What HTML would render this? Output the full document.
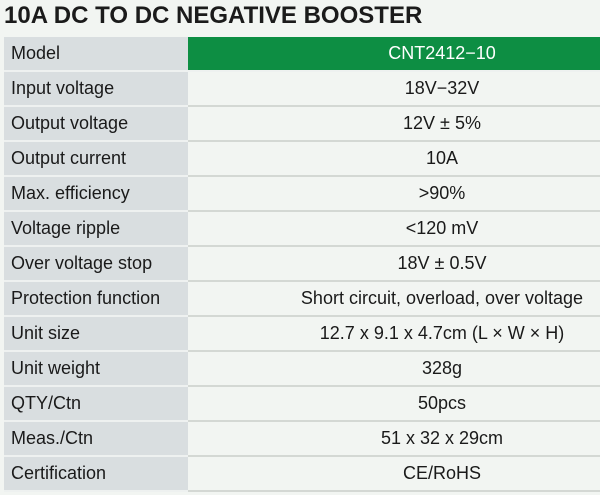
<!DOCTYPE html><html><head><style>
body{margin:0;width:600px;height:495px;background:#f2f5f2;font-family:"Liberation Sans",sans-serif;overflow:hidden;position:relative}
h1{position:absolute;left:4px;top:2px;margin:0;font-size:24px;font-weight:bold;color:#1b1b1b;letter-spacing:0px}
.t{position:absolute;left:4px;top:37px;width:596px}
.r{height:33px;display:flex;border-bottom:2px solid #d4d8d4}
.l{width:177px;background:#d9dee0;font-size:18px;color:#1a1a1a;line-height:33px;padding-left:7px;border-bottom:2px solid #eef1f0;margin-bottom:-2px;height:33px}
.v{flex:1;text-align:center;font-size:18px;color:#1a1a1a;line-height:33px;padding-left:96px}
.g{background:#0d8e43;color:#fff}
</style></head><body>
<h1>10A DC TO DC NEGATIVE BOOSTER</h1>
<div class="t">
<div class="r" style="border-bottom-color:#eef1f0"><div class="l">Model</div><div class="v g">CNT2412−10</div></div>
<div class="r"><div class="l">Input voltage</div><div class="v">18V−32V</div></div>
<div class="r"><div class="l">Output voltage</div><div class="v">12V ± 5%</div></div>
<div class="r"><div class="l">Output current</div><div class="v">10A</div></div>
<div class="r"><div class="l">Max. efficiency</div><div class="v">&gt;90%</div></div>
<div class="r"><div class="l">Voltage ripple</div><div class="v">&lt;120 mV</div></div>
<div class="r"><div class="l">Over voltage stop</div><div class="v">18V ± 0.5V</div></div>
<div class="r"><div class="l">Protection function</div><div class="v">Short circuit, overload, over voltage</div></div>
<div class="r"><div class="l">Unit size</div><div class="v">12.7 x 9.1 x 4.7cm (L × W × H)</div></div>
<div class="r"><div class="l">Unit weight</div><div class="v">328g</div></div>
<div class="r"><div class="l">QTY/Ctn</div><div class="v">50pcs</div></div>
<div class="r"><div class="l">Meas./Ctn</div><div class="v">51 x 32 x 29cm</div></div>
<div class="r"><div class="l">Certification</div><div class="v">CE/RoHS</div></div>
</div>
</body></html>
